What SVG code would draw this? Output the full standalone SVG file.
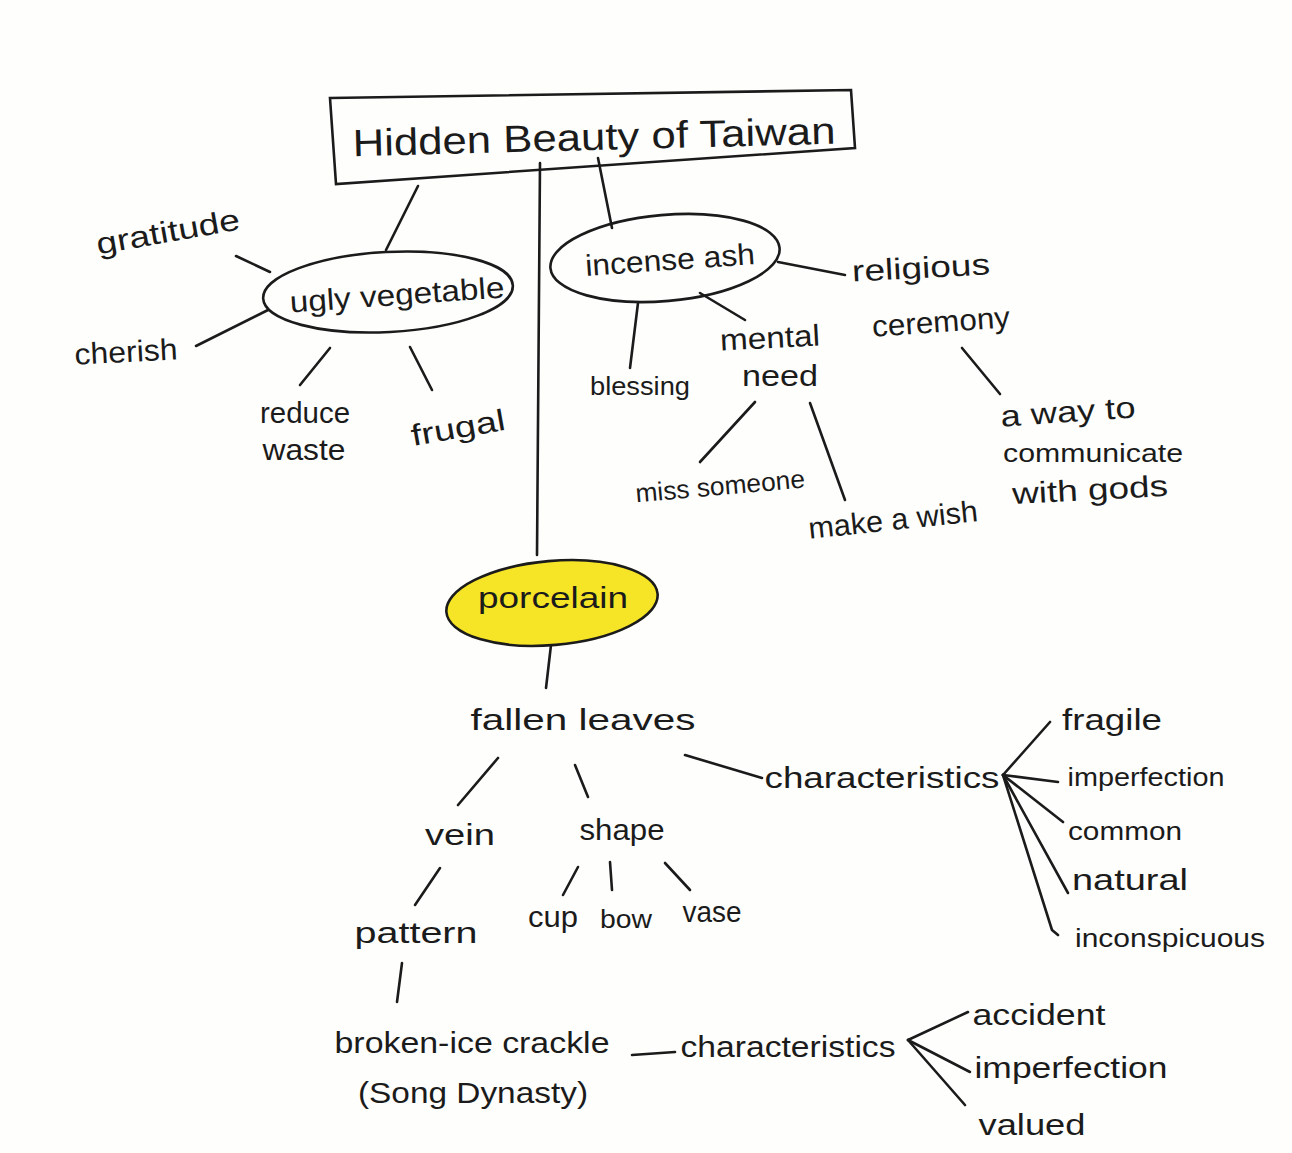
<svg xmlns="http://www.w3.org/2000/svg" width="1292" height="1153" viewBox="0 0 1292 1153">
<style>
.t{font-family:"Liberation Sans","DejaVu Sans",sans-serif;font-size:30px;fill:#1b1b1b;text-anchor:middle}
.s{font-size:26px}
.big{font-size:38px}
.ln{stroke:#1b1b1b;stroke-width:2.6;fill:none;stroke-linecap:round;stroke-linejoin:round}
.ov{stroke:#1b1b1b;stroke-width:2.6;fill:none}
</style>
<rect width="1292" height="1153" fill="#fefefc"/>
<g id="connectors">
<path class="ln" d="M418,186 L386,250"/>
<path class="ln" d="M540,163 L537,555"/>
<path class="ln" d="M598,158 L612,228"/>
<path class="ln" d="M236,256 L270,272"/>
<path class="ln" d="M196,346 L268,310"/>
<path class="ln" d="M330,348 L300,385"/>
<path class="ln" d="M410,347 L432,390"/>
<path class="ln" d="M778,262 L845,275"/>
<path class="ln" d="M638,303 L630,368"/>
<path class="ln" d="M700,293 L745,320"/>
<path class="ln" d="M962,348 L1000,394"/>
<path class="ln" d="M755,402 L700,462"/>
<path class="ln" d="M810,403 L845,500"/>
<path class="ln" d="M551,645 L546,688"/>
<path class="ln" d="M498,758 L458,805"/>
<path class="ln" d="M575,765 L588,797"/>
<path class="ln" d="M685,755 L762,778"/>
<path class="ln" d="M1003,775 L1050,722"/>
<path class="ln" d="M1003,775 L1058,782"/>
<path class="ln" d="M1003,775 L1063,822"/>
<path class="ln" d="M1003,775 L1068,893"/>
<path class="ln" d="M1003,775 L1052,930 L1058,935"/>
<path class="ln" d="M440,868 L415,905"/>
<path class="ln" d="M578,867 L563,895"/>
<path class="ln" d="M610,862 L612,890"/>
<path class="ln" d="M665,863 L690,890"/>
<path class="ln" d="M402,963 L397,1002"/>
<path class="ln" d="M632,1055 L675,1052"/>
<path class="ln" d="M908,1040 L968,1012"/>
<path class="ln" d="M908,1040 L970,1072"/>
<path class="ln" d="M908,1040 L965,1105"/>
</g>
<g id="title">
<path class="ov" d="M330,98 L851,90 L855,148 L336,184 Z"/>
<text class="t big" x="594" y="150" textLength="483" lengthAdjust="spacingAndGlyphs" transform="rotate(-1.5 594 138)">Hidden Beauty of Taiwan</text>
</g>
<g id="ugly-vegetable">
<ellipse class="ov" cx="388" cy="292" rx="125" ry="40" transform="rotate(-3 388 292)"/>
<text class="t" x="397" y="305" textLength="215" lengthAdjust="spacingAndGlyphs" transform="rotate(-4 397 295)">ugly vegetable</text>
</g>
<g id="gratitude"><text class="t" x="168" y="242" textLength="145" lengthAdjust="spacingAndGlyphs" transform="rotate(-10 168 232)">gratitude</text></g>
<g id="cherish"><text class="t" x="126" y="362" textLength="103" lengthAdjust="spacingAndGlyphs" transform="rotate(-3 126 352)">cherish</text></g>
<g id="reduce-waste">
<text class="t" x="305" y="423" textLength="90" lengthAdjust="spacingAndGlyphs">reduce</text>
<text class="t" x="304" y="460" textLength="83" lengthAdjust="spacingAndGlyphs">waste</text>
</g>
<g id="frugal"><text class="t" x="458" y="438" textLength="95" lengthAdjust="spacingAndGlyphs" transform="rotate(-10 458 428)">frugal</text></g>
<g id="incense-ash">
<ellipse class="ov" cx="665" cy="258" rx="115" ry="43" transform="rotate(-5 665 258)"/>
<text class="t" x="670" y="270" textLength="170" lengthAdjust="spacingAndGlyphs" transform="rotate(-4 670 260)">incense ash</text>
</g>
<g id="religious-ceremony">
<text class="t" x="921" y="278" textLength="138" lengthAdjust="spacingAndGlyphs" transform="rotate(-3 921 268)">religious</text>
<text class="t" x="941" y="332" textLength="138" lengthAdjust="spacingAndGlyphs" transform="rotate(-4 941 322)">ceremony</text>
</g>
<g id="blessing"><text class="t s" x="640" y="395" textLength="100" lengthAdjust="spacingAndGlyphs">blessing</text></g>
<g id="mental-need">
<text class="t" x="770" y="348" textLength="100" lengthAdjust="spacingAndGlyphs" transform="rotate(-3 770 338)">mental</text>
<text class="t" x="780" y="386" textLength="76" lengthAdjust="spacingAndGlyphs">need</text>
</g>
<g id="communicate-gods">
<text class="t" x="1068" y="422" textLength="135" lengthAdjust="spacingAndGlyphs" transform="rotate(-4 1068 412)">a way to</text>
<text class="t s" x="1093" y="462" textLength="180" lengthAdjust="spacingAndGlyphs">communicate</text>
<text class="t" x="1090" y="500" textLength="156" lengthAdjust="spacingAndGlyphs" transform="rotate(-3 1090 490)">with gods</text>
</g>
<g id="miss-someone"><text class="t s" x="720" y="495" textLength="170" lengthAdjust="spacingAndGlyphs" transform="rotate(-5 720 485)">miss someone</text></g>
<g id="make-a-wish"><text class="t" x="893" y="530" textLength="170" lengthAdjust="spacingAndGlyphs" transform="rotate(-6 893 520)">make a wish</text></g>
<g id="porcelain">
<ellipse cx="552" cy="603" rx="106" ry="42" fill="#f6e526" stroke="#1b1b1b" stroke-width="2.6" transform="rotate(-5 552 603)"/>
<text class="t" x="553" y="608" textLength="150" lengthAdjust="spacingAndGlyphs">porcelain</text>
</g>
<g id="fallen-leaves"><text class="t" x="583" y="730" textLength="225" lengthAdjust="spacingAndGlyphs">fallen leaves</text></g>
<g id="characteristics-1"><text class="t" x="882" y="788" textLength="235" lengthAdjust="spacingAndGlyphs">characteristics</text></g>
<g id="fragile"><text class="t" x="1112" y="730" textLength="100" lengthAdjust="spacingAndGlyphs">fragile</text></g>
<g id="imperfection-1"><text class="t s" x="1146" y="786" textLength="157" lengthAdjust="spacingAndGlyphs">imperfection</text></g>
<g id="common"><text class="t s" x="1125" y="840" textLength="114" lengthAdjust="spacingAndGlyphs">common</text></g>
<g id="natural"><text class="t" x="1130" y="890" textLength="116" lengthAdjust="spacingAndGlyphs">natural</text></g>
<g id="inconspicuous"><text class="t s" x="1170" y="947" textLength="190" lengthAdjust="spacingAndGlyphs">inconspicuous</text></g>
<g id="vein"><text class="t" x="460" y="845" textLength="70" lengthAdjust="spacingAndGlyphs">vein</text></g>
<g id="shape"><text class="t" x="622" y="840" textLength="85" lengthAdjust="spacingAndGlyphs">shape</text></g>
<g id="pattern"><text class="t" x="416" y="943" textLength="123" lengthAdjust="spacingAndGlyphs">pattern</text></g>
<g id="cup"><text class="t" x="553" y="927" textLength="50" lengthAdjust="spacingAndGlyphs">cup</text></g>
<g id="bow"><text class="t s" x="626" y="928" textLength="52" lengthAdjust="spacingAndGlyphs">bow</text></g>
<g id="vase"><text class="t" x="712" y="922" textLength="59" lengthAdjust="spacingAndGlyphs">vase</text></g>
<g id="broken-ice-crackle">
<text class="t" x="472" y="1053" textLength="275" lengthAdjust="spacingAndGlyphs">broken-ice crackle</text>
<text class="t" x="473" y="1103" textLength="230" lengthAdjust="spacingAndGlyphs">(Song Dynasty)</text>
</g>
<g id="characteristics-2"><text class="t" x="788" y="1057" textLength="215" lengthAdjust="spacingAndGlyphs">characteristics</text></g>
<g id="accident"><text class="t" x="1039" y="1025" textLength="133" lengthAdjust="spacingAndGlyphs">accident</text></g>
<g id="imperfection-2"><text class="t" x="1071" y="1078" textLength="193" lengthAdjust="spacingAndGlyphs">imperfection</text></g>
<g id="valued"><text class="t" x="1032" y="1135" textLength="107" lengthAdjust="spacingAndGlyphs">valued</text></g>
</svg>
